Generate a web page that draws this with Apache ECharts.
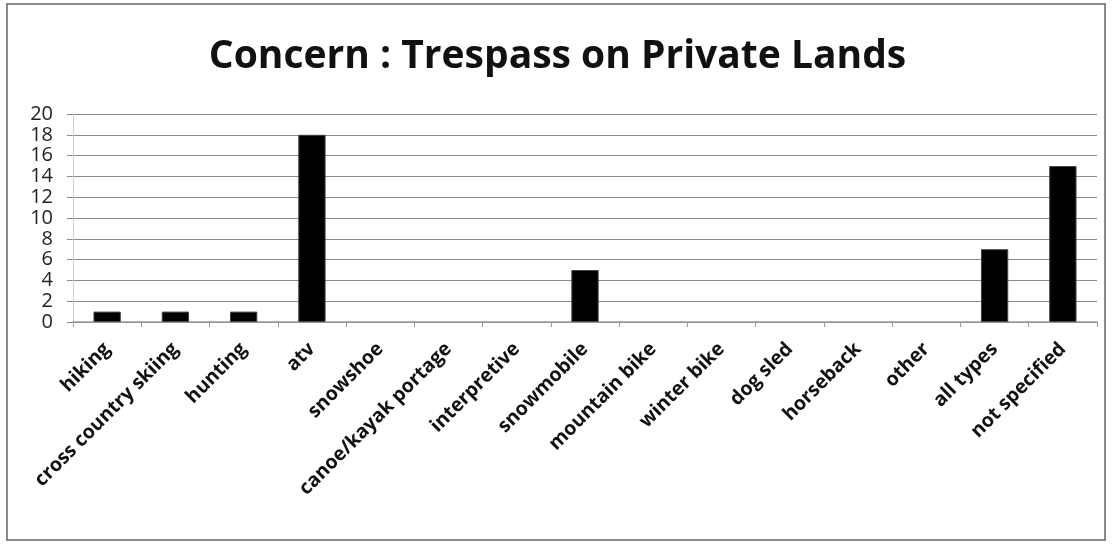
<!DOCTYPE html>
<html><head><meta charset="utf-8">
<script src="https://cdn.jsdelivr.net/npm/echarts@6/dist/echarts.min.js"></script>
<style>html,body{margin:0;padding:0;background:#fff}#c{width:1115px;height:546px}
#frame{position:absolute;left:6px;top:3px;width:1100px;height:538px;border:2px solid #8a8a8a;box-sizing:border-box;pointer-events:none}</style>
</head><body><div id="c"></div><div id="frame"></div>
<script>
const categories = ["hiking","cross country skiing","hunting","atv","snowshoe","canoe/kayak portage","interpretive","snowmobile","mountain bike","winter bike","dog sled","horseback","other","all types","not specified"];
const values = [1,1,1,18,0,0,0,5,0,0,0,0,0,7,15];
const yTicks = [0,2,4,6,8,10,12,14,16,18,20];
const chart = echarts.init(document.getElementById('c'));
chart.setOption({
  animation:false,
  backgroundColor:'#fff',
  title:{text:'Concern : Trespass on Private Lands',left:'center',top:32,
    textStyle:{fontFamily:'Open Sans',fontWeight:'bold',fontSize:39,color:'#111'}},
  grid:{left:73,right:18,top:114,bottom:224},
  xAxis:{type:'category',data:categories,
    axisLine:{lineStyle:{color:'#9a9a9a',width:1.5}},
    axisTick:{show:true,length:5,lineStyle:{color:'#9a9a9a'}},
    axisLabel:{rotate:45,interval:0,margin:24,fontFamily:'Open Sans',fontWeight:'bold',fontSize:19.5,color:'#111'}},
  yAxis:{type:'value',min:yTicks[0],max:yTicks[yTicks.length-1],interval:2,
    axisLine:{show:true,lineStyle:{color:'#cfcfcf'}},
    axisTick:{show:true,length:6,lineStyle:{color:'#8a8a8a'}},
    splitLine:{lineStyle:{color:'#8a8a8a',width:1.2}},
    axisLabel:{margin:20,fontFamily:'Open Sans',fontSize:20,color:'#222',lineHeight:16,
      hideOverlap:false,showMinLabel:true,showMaxLabel:true}},
  series:[{type:'bar',data:values.map(v=>v===0?{value:0,itemStyle:{borderWidth:0}}:v),barWidth:'40%',
    itemStyle:{color:'#000',borderColor:'#444',borderWidth:1}}]
});
</script></body></html>
